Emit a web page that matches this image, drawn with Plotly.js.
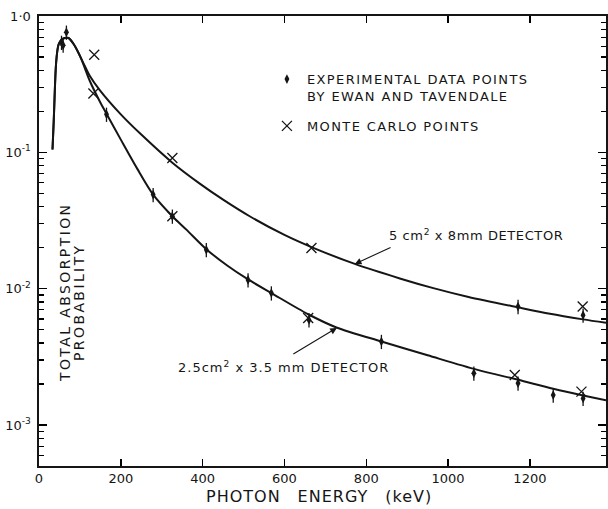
<!DOCTYPE html>
<html>
<head>
<meta charset="utf-8">
<script src="https://cdn.plot.ly/plotly-3.0.1.min.js"></script>
<style>
html,body{margin:0;padding:0;background:#fff;}
.legendtext{letter-spacing:1.4px;}
</style>
</head>
<body>
<div id="chart" style="width:608px;height:509px;"></div>
<script>
const curve8mmX = [33, 36, 38, 40, 42, 45, 48, 55, 63, 72, 85, 100, 112, 124, 149, 200, 250, 326, 393, 450, 515, 600, 666, 772, 882, 964, 1050, 1171, 1249, 1330, 1386];
const curve8mmY = [0.105, 0.17, 0.25, 0.36, 0.46, 0.56, 0.62, 0.67, 0.69, 0.69, 0.62, 0.51, 0.43, 0.365, 0.285, 0.19, 0.135, 0.084, 0.059, 0.045, 0.034, 0.0248, 0.0202, 0.0152, 0.0119, 0.0101, 0.0087, 0.0073, 0.00655, 0.00596, 0.00562];
const curve35mmX = [33, 36, 38, 40, 42, 45, 48, 55, 63, 72, 85, 100, 112, 124, 149, 165, 200, 240, 279, 326, 361, 409, 460, 511, 568, 658, 727, 837, 950, 1070, 1171, 1257, 1330, 1386];
const curve35mmY = [0.105, 0.17, 0.25, 0.36, 0.46, 0.56, 0.62, 0.67, 0.69, 0.69, 0.62, 0.51, 0.415, 0.335, 0.235, 0.192, 0.124, 0.076, 0.049, 0.034, 0.027, 0.0195, 0.0148, 0.0117, 0.0093, 0.0065, 0.0052, 0.0041, 0.00325, 0.00255, 0.00215, 0.00185, 0.00165, 0.00152];

// Experimental data points (Ewan and Tavendale)
const exp35mmX = [55, 59, 67, 165, 279, 326, 409, 511, 568, 660, 837, 1063, 1171, 1257, 1330];
const exp35mmY = [0.64, 0.61, 0.76, 0.19, 0.049, 0.034, 0.0193, 0.0116, 0.0093, 0.0059, 0.0041, 0.0024, 0.00203, 0.00166, 0.00157];
const exp8mmX = [1171, 1330];
const exp8mmY = [0.0074, 0.0064];

// Monte Carlo points
const mc8mmX = [135, 326, 666, 1329];
const mc8mmY = [0.52, 0.091, 0.0199, 0.0074];
const mc35mmX = [133, 326, 658, 1163, 1326];
const mc35mmY = [0.27, 0.034, 0.0061, 0.00233, 0.00176];

// Axis ticks
const xTickVals = [0, 200, 400, 600, 800, 1000, 1200];
const xTickText = ['0', '200', '400', '600', '800', '1000', '1200'];
const yTickVals = [0.001, 0.01, 0.1, 1];
const yTickText = ['10<sup>-3</sup>', '10<sup>-2</sup>', '10<sup>-1</sup>', '1·0'];
const yMinorVals = [];
[0.0001, 0.001, 0.01, 0.1].forEach(d => { for (let m = 2; m <= 9; m++) yMinorVals.push(d * m); });

const INK = '#151515';
const FONT = 'DejaVu Sans, Liberation Sans, sans-serif';

const traces = [
  {x: curve8mmX, y: curve8mmY, mode: 'lines', line: {color: INK, width: 2, shape: 'spline', smoothing: 0.8}, showlegend: false, hoverinfo: 'skip'},
  {x: curve35mmX, y: curve35mmY, mode: 'lines', line: {color: INK, width: 2, shape: 'spline', smoothing: 0.8}, showlegend: false, hoverinfo: 'skip'},
  {x: exp35mmX.concat(exp8mmX), y: exp35mmY.concat(exp8mmY), mode: 'markers',
   name: 'EXPERIMENTAL DATA POINTS<br>BY EWAN AND TAVENDALE', legendgroup: 'a',
   marker: {symbol: 'diamond-tall', size: 7, color: INK},
   error_y: {type: 'percent', value: 12, width: 0, thickness: 1.3, color: INK}},
  {x: mc8mmX.concat(mc35mmX), y: mc8mmY.concat(mc35mmY), mode: 'markers',
   name: 'MONTE CARLO POINTS', legendgroup: 'b',
   marker: {symbol: 'x-thin-open', size: 10, line: {color: INK, width: 1.3}, color: INK}}
];

const L = Math.log10;
const layout = {
  width: 608, height: 509,
  margin: {l: 39, r: 2, t: 16, b: 43},
  paper_bgcolor: '#fff', plot_bgcolor: 'rgba(0,0,0,0)',
  font: {family: FONT, color: INK, size: 13},
  showlegend: true,
  legend: {x: 0.402, y: 0.893, xanchor: 'left', yanchor: 'top', bgcolor: 'rgba(0,0,0,0)',
           font: {size: 13, family: FONT, color: INK}, traceorder: 'grouped', tracegroupgap: 10, valign: 'top'},
  xaxis: {range: [0, 1386], tickmode: 'array', tickvals: xTickVals, ticktext: xTickText,
          ticks: 'inside', ticklen: 7, tickwidth: 1.5, tickcolor: '#000',
          showline: true, linewidth: 1.6, linecolor: INK, mirror: 'ticks', layer: 'above traces',
          showgrid: false, zeroline: false, tickfont: {size: 13, family: FONT, color: INK}},
  yaxis: {type: 'log', range: [-3.3, 0], tickmode: 'array', tickvals: yTickVals, ticktext: yTickText,
          ticks: 'inside', ticklen: 8, tickwidth: 1.5, tickcolor: '#000',
          minor: {tickmode: 'array', tickvals: yMinorVals, ticks: 'inside', ticklen: 5, tickwidth: 1.2, tickcolor: '#000', showgrid: false},
          showline: true, linewidth: 1.6, linecolor: INK, mirror: 'ticks', ticklabelstandoff: 4, layer: 'above traces',
          showgrid: false, zeroline: false, tickfont: {size: 13, family: FONT, color: INK}},
  annotations: [
    {xref: 'paper', yref: 'paper', x: 0.4947, y: -0.067, xanchor: 'center', yanchor: 'middle', showarrow: false,
     text: '<span style="letter-spacing:1px">PHOTON\u2003ENERGY\u2003(keV)</span>', font: {size: 16, family: FONT, color: INK}},
    {xref: 'paper', yref: 'paper', x: (65 - 39) / 567, y: (466 - 293) / 450, xanchor: 'center', yanchor: 'middle', showarrow: false, textangle: -90,
     text: '<span style="letter-spacing:2.4px">TOTAL ABSORPTION</span>', font: {size: 14, family: FONT, color: INK}},
    {xref: 'paper', yref: 'paper', x: (79 - 39) / 567, y: (466 - 302) / 450, xanchor: 'center', yanchor: 'middle', showarrow: false, textangle: -90,
     text: '<span style="letter-spacing:2.4px">PROBABILITY</span>', font: {size: 14, family: FONT, color: INK}},
    {xref: 'x', yref: 'y', x: 850, y: L(0.0249), xanchor: 'left', yanchor: 'middle', showarrow: false,
     text: '<span style="letter-spacing:0.6px">5 cm<sup>2</sup> x 8mm DETECTOR</span>', font: {size: 13, family: FONT, color: INK}},
    {xref: 'x', yref: 'y', x: 335, y: L(0.00267), xanchor: 'left', yanchor: 'middle', showarrow: false,
     text: '<span style="letter-spacing:1px">2.5cm<sup>2</sup> x 3.5 mm DETECTOR</span>', font: {size: 13, family: FONT, color: INK}},
    {xref: 'x', yref: 'y', x: 772, y: L(0.0152), axref: 'x', ayref: 'y', ax: 863, ay: L(0.0203),
     text: '', showarrow: true, arrowhead: 2, arrowsize: 1.2, arrowwidth: 1.1, arrowcolor: INK},
    {xref: 'x', yref: 'y', x: 728, y: L(0.00516), axref: 'x', ayref: 'y', ax: 618, ay: L(0.00327),
     text: '', showarrow: true, arrowhead: 2, arrowsize: 1.2, arrowwidth: 1.1, arrowcolor: INK}
  ]
};

Plotly.newPlot('chart', traces, layout, {staticPlot: true, displayModeBar: false});
</script>
</body>
</html>
